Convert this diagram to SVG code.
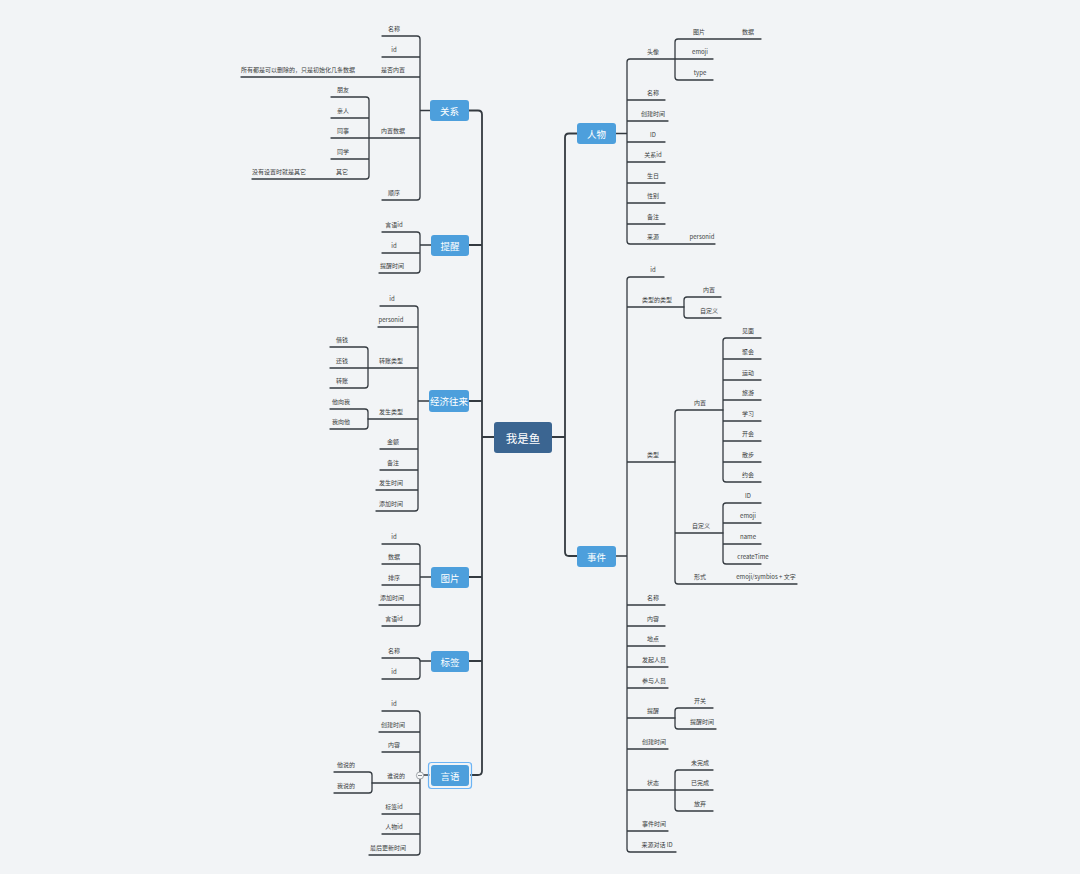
<svg xmlns="http://www.w3.org/2000/svg" width="1080" height="874" viewBox="0 0 1080 874">
<style>
.bg{fill:#f2f4f6}
.ln{fill:none;stroke:#343a40;stroke-width:1.3;stroke-linecap:round}
.tr{fill:none;stroke:#343a40;stroke-width:1.8;stroke-linecap:round}
.t{font-family:"Noto Sans CJK SC","Liberation Sans",sans-serif;font-size:6px;fill:#3a3d40;text-anchor:middle}
.n{fill:#4d9fdc}
.nt{font-family:"Noto Sans CJK SC","Liberation Sans",sans-serif;font-size:9.5px;fill:#ffffff;text-anchor:middle;dominant-baseline:central}
</style>
<rect class="bg" x="0" y="0" width="1080" height="874"/>
<g id="connectors">
<path class="tr" d="M469,110.5 H478 Q482,110.5 482,114.5 V771 Q482,775 478,775 H471 M469,245 H482 M469,401 H482 M469,577 H482 M469,661 H482 M482,437 H494"/>
<path class="tr" d="M577,133.5 H569 Q565,133.5 565,137.5 V552 Q565,556 569,556 H577 M552,437 H565"/>
<!-- 关系 -->
<path class="ln" d="M382,36 H417 Q420,36 420,39 V197 Q420,200 417,200 H382 M382,57 H420 M241,77 H420 M331,138 H420 M420,110.5 H430"/>
<path class="ln" d="M331,97 H366 Q369,97 369,100 V176 Q369,179 366,179 H252 M331,118 H369 M331,159 H369"/>
<!-- 提醒 -->
<path class="ln" d="M382,232 H417 Q420,232 420,235 V270 Q420,273 417,273 H379 M382,253 H420 M420,245 H431"/>
<!-- 经济往来 -->
<path class="ln" d="M380,306 H415 Q418,306 418,309 V508 Q418,511 415,511 H376 M378,327 H418 M330,368 H418 M368,419 H418 M380,449 H418 M380,470 H418 M376,490 H418 M418,401 H429"/>
<path class="ln" d="M330,347 H365 Q368,347 368,350 V385 Q368,388 365,388 H330"/>
<path class="ln" d="M330,409 H365 Q368,409 368,412 V426 Q368,429 365,429 H330"/>
<!-- 图片 -->
<path class="ln" d="M382,544 H417 Q420,544 420,547 V623 Q420,626 417,626 H382 M382,564 H420 M382,585 H420 M379,605 H420 M420,577 H431"/>
<!-- 标签 -->
<path class="ln" d="M382,658 H417 Q420,658 420,661 V676 Q420,679 417,679 H382 M420,661 H431"/>
<!-- 言语 -->
<path class="ln" d="M382,711 H417 Q420,711 420,714 V852 Q420,855 417,855 H369 M379,732 H420 M382,752 H420 M372,783 H420 M382,814 H420 M382,834 H420 M420,775 H429"/>
<path class="ln" d="M334,772 H369 Q372,772 372,775 V790 Q372,793 369,793 H334"/>
<!-- 人物 -->
<path class="ln" d="M713,59 H630 Q627,59 627,62 V241 Q627,244 630,244 H715 M627,100 H665 M627,121 H668 M627,142 H665 M627,162 H665 M627,183 H665 M627,203 H665 M627,224 H665 M616,133.5 H627"/>
<path class="ln" d="M761,39 H678 Q675,39 675,42 V77 Q675,80 678,80 H713"/>
<!-- 事件 -->
<path class="ln" d="M664,277 H630 Q627,277 627,280 V849 Q627,852 630,852 H676 M627,307 H684 M627,462 H675 M627,605 H665 M627,626 H665 M627,646 H665 M627,667 H668 M627,688 H668 M627,718 H675 M627,749 H668 M627,790 H713 M627,831 H668 M616,556 H627"/>
<path class="ln" d="M721,297 H687 Q684,297 684,300 V315 Q684,318 687,318 H721"/>
<path class="ln" d="M723,410 H678 Q675,410 675,413 V581 Q675,584 678,584 H797 M675,533 H723"/>
<path class="ln" d="M761,338 H726 Q723,338 723,341 V479 Q723,482 726,482 H761 M723,359 H761 M723,380 H761 M723,400 H761 M723,421 H761 M723,441 H761 M723,462 H761"/>
<path class="ln" d="M761,503 H726 Q723,503 723,506 V561 Q723,564 726,564 H761 M723,523 H761 M723,544 H761"/>
<path class="ln" d="M713,708 H678 Q675,708 675,711 V726 Q675,729 678,729 H716"/>
<path class="ln" d="M713,770 H678 Q675,770 675,773 V808 Q675,811 678,811 H713"/>
</g>
<g id="root">
<rect x="494" y="422" width="58" height="31" rx="3" fill="#3b6591"/>
<text class="nt" x="523" y="437.5" style="font-size:11.5px">我是鱼</text>
</g>
<g id="guanxi">
<rect class="n" x="430" y="100" width="39" height="21" rx="3"/>
<text class="nt" x="449.5" y="110.5">关系</text>
<text class="t" x="394" y="30.5">名称</text>
<text class="t" x="394" y="51.5">id</text>
<text class="t" x="393" y="71.5">是否内置</text>
<text class="t" x="298" y="71.5">所有都是可以删除的，只是初始化几条数据</text>
<text class="t" x="393" y="132.5">内置数据</text>
<text class="t" x="343" y="91.5">朋友</text>
<text class="t" x="343" y="112.5">亲人</text>
<text class="t" x="343" y="132.5">同事</text>
<text class="t" x="343" y="153.5">同学</text>
<text class="t" x="342" y="173.5">其它</text>
<text class="t" x="279" y="173.5">没有设置时就是其它</text>
<text class="t" x="394" y="194.5">顺序</text>
</g>
<g id="tixing">
<rect class="n" x="431" y="235" width="38" height="21" rx="3"/>
<text class="nt" x="450" y="245.5">提醒</text>
<text class="t" x="394" y="226.5">言语id</text>
<text class="t" x="394" y="247.5">id</text>
<text class="t" x="392" y="267.5">提醒时间</text>
</g>
<g id="jingji">
<rect class="n" x="429" y="390" width="40" height="22" rx="3"/>
<text class="nt" x="449" y="401">经济往来</text>
<text class="t" x="392" y="300.5">id</text>
<text class="t" x="391" y="321.5">personid</text>
<text class="t" x="391" y="362.5">转账类型</text>
<text class="t" x="342" y="341.5">借钱</text>
<text class="t" x="342" y="362.5">还钱</text>
<text class="t" x="342" y="382.5">转账</text>
<text class="t" x="391" y="413.5">发生类型</text>
<text class="t" x="341" y="403.5">他向我</text>
<text class="t" x="341" y="423.5">我向他</text>
<text class="t" x="393" y="443.5">金额</text>
<text class="t" x="393" y="464.5">备注</text>
<text class="t" x="391" y="484.5">发生时间</text>
<text class="t" x="391" y="505.5">添加时间</text>
</g>
<g id="tupian">
<rect class="n" x="431" y="567" width="38" height="21" rx="3"/>
<text class="nt" x="450" y="577.5">图片</text>
<text class="t" x="394" y="538.5">id</text>
<text class="t" x="394" y="558.5">数据</text>
<text class="t" x="394" y="579.5">排序</text>
<text class="t" x="392" y="599.5">添加时间</text>
<text class="t" x="394" y="620.5">言语id</text>
</g>
<g id="biaoqian">
<rect class="n" x="431" y="651" width="38" height="21" rx="3"/>
<text class="nt" x="450" y="661.5">标签</text>
<text class="t" x="394" y="652.5">名称</text>
<text class="t" x="394" y="673.5">id</text>
</g>
<g id="yanyu">
<rect x="428.5" y="762.5" width="43" height="26" rx="3" fill="none" stroke="#6cb4f5" stroke-width="1.2"/>
<rect class="n" x="431" y="765" width="38" height="21" rx="3"/>
<text class="nt" x="450" y="775.5">言语</text>
<circle cx="420" cy="775.5" r="3.6" fill="#f7f8f9" stroke="#8a9097" stroke-width="0.8"/>
<path d="M418,775.5 H422" stroke="#6a7077" stroke-width="0.8"/>
<text class="t" x="394" y="705.5">id</text>
<text class="t" x="393" y="726.5">创建时间</text>
<text class="t" x="394" y="746.5">内容</text>
<text class="t" x="396" y="777.5">谁说的</text>
<text class="t" x="346" y="766.5">他说的</text>
<text class="t" x="346" y="787.5">我说的</text>
<text class="t" x="394" y="808.5">标签id</text>
<text class="t" x="394" y="828.5">人物id</text>
<text class="t" x="388" y="849.5">最后更新时间</text>
</g>
<g id="renwu">
<rect class="n" x="577" y="123" width="39" height="21" rx="3"/>
<text class="nt" x="596.5" y="133.5">人物</text>
<text class="t" x="653" y="53.5">头像</text>
<text class="t" x="699" y="33.5">图片</text>
<text class="t" x="748" y="33.5">数据</text>
<text class="t" x="700" y="53.5">emoji</text>
<text class="t" x="700" y="74.5">type</text>
<text class="t" x="653" y="94.5">名称</text>
<text class="t" x="653" y="115.5">创建时间</text>
<text class="t" x="653" y="136.5">ID</text>
<text class="t" x="653" y="156.5">关系id</text>
<text class="t" x="653" y="177.5">生日</text>
<text class="t" x="653" y="197.5">性别</text>
<text class="t" x="653" y="218.5">备注</text>
<text class="t" x="653" y="238.5">来源</text>
<text class="t" x="702" y="238.5">personid</text>
</g>
<g id="shijian">
<rect class="n" x="577" y="546" width="39" height="21" rx="3"/>
<text class="nt" x="596.5" y="556.5">事件</text>
<text class="t" x="653" y="271.5">id</text>
<text class="t" x="657" y="301.5">类型的类型</text>
<text class="t" x="709" y="291.5">内置</text>
<text class="t" x="709" y="312.5">自定义</text>
<text class="t" x="653" y="456.5">类型</text>
<text class="t" x="700" y="404.5">内置</text>
<text class="t" x="748" y="332.5">见面</text>
<text class="t" x="748" y="353.5">聚会</text>
<text class="t" x="748" y="374.5">运动</text>
<text class="t" x="748" y="394.5">旅游</text>
<text class="t" x="748" y="415.5">学习</text>
<text class="t" x="748" y="435.5">开会</text>
<text class="t" x="748" y="456.5">散步</text>
<text class="t" x="748" y="476.5">约会</text>
<text class="t" x="701" y="527.5">自定义</text>
<text class="t" x="748" y="497.5">ID</text>
<text class="t" x="748" y="517.5">emoji</text>
<text class="t" x="748" y="538.5">name</text>
<text class="t" x="753" y="558.5">createTime</text>
<text class="t" x="700" y="578.5">形式</text>
<text class="t" x="766" y="578.5">emoji/symbios + 文字</text>
<text class="t" x="653" y="599.5">名称</text>
<text class="t" x="653" y="620.5">内容</text>
<text class="t" x="653" y="640.5">地点</text>
<text class="t" x="654" y="661.5">发起人员</text>
<text class="t" x="654" y="682.5">参与人员</text>
<text class="t" x="653" y="712.5">提醒</text>
<text class="t" x="700" y="702.5">开关</text>
<text class="t" x="702" y="723.5">提醒时间</text>
<text class="t" x="654" y="743.5">创建时间</text>
<text class="t" x="653" y="784.5">状态</text>
<text class="t" x="700" y="764.5">未完成</text>
<text class="t" x="700" y="784.5">已完成</text>
<text class="t" x="700" y="805.5">放弃</text>
<text class="t" x="654" y="825.5">事件时间</text>
<text class="t" x="657" y="846.5">来源对话 ID</text>
</g>
</svg>
